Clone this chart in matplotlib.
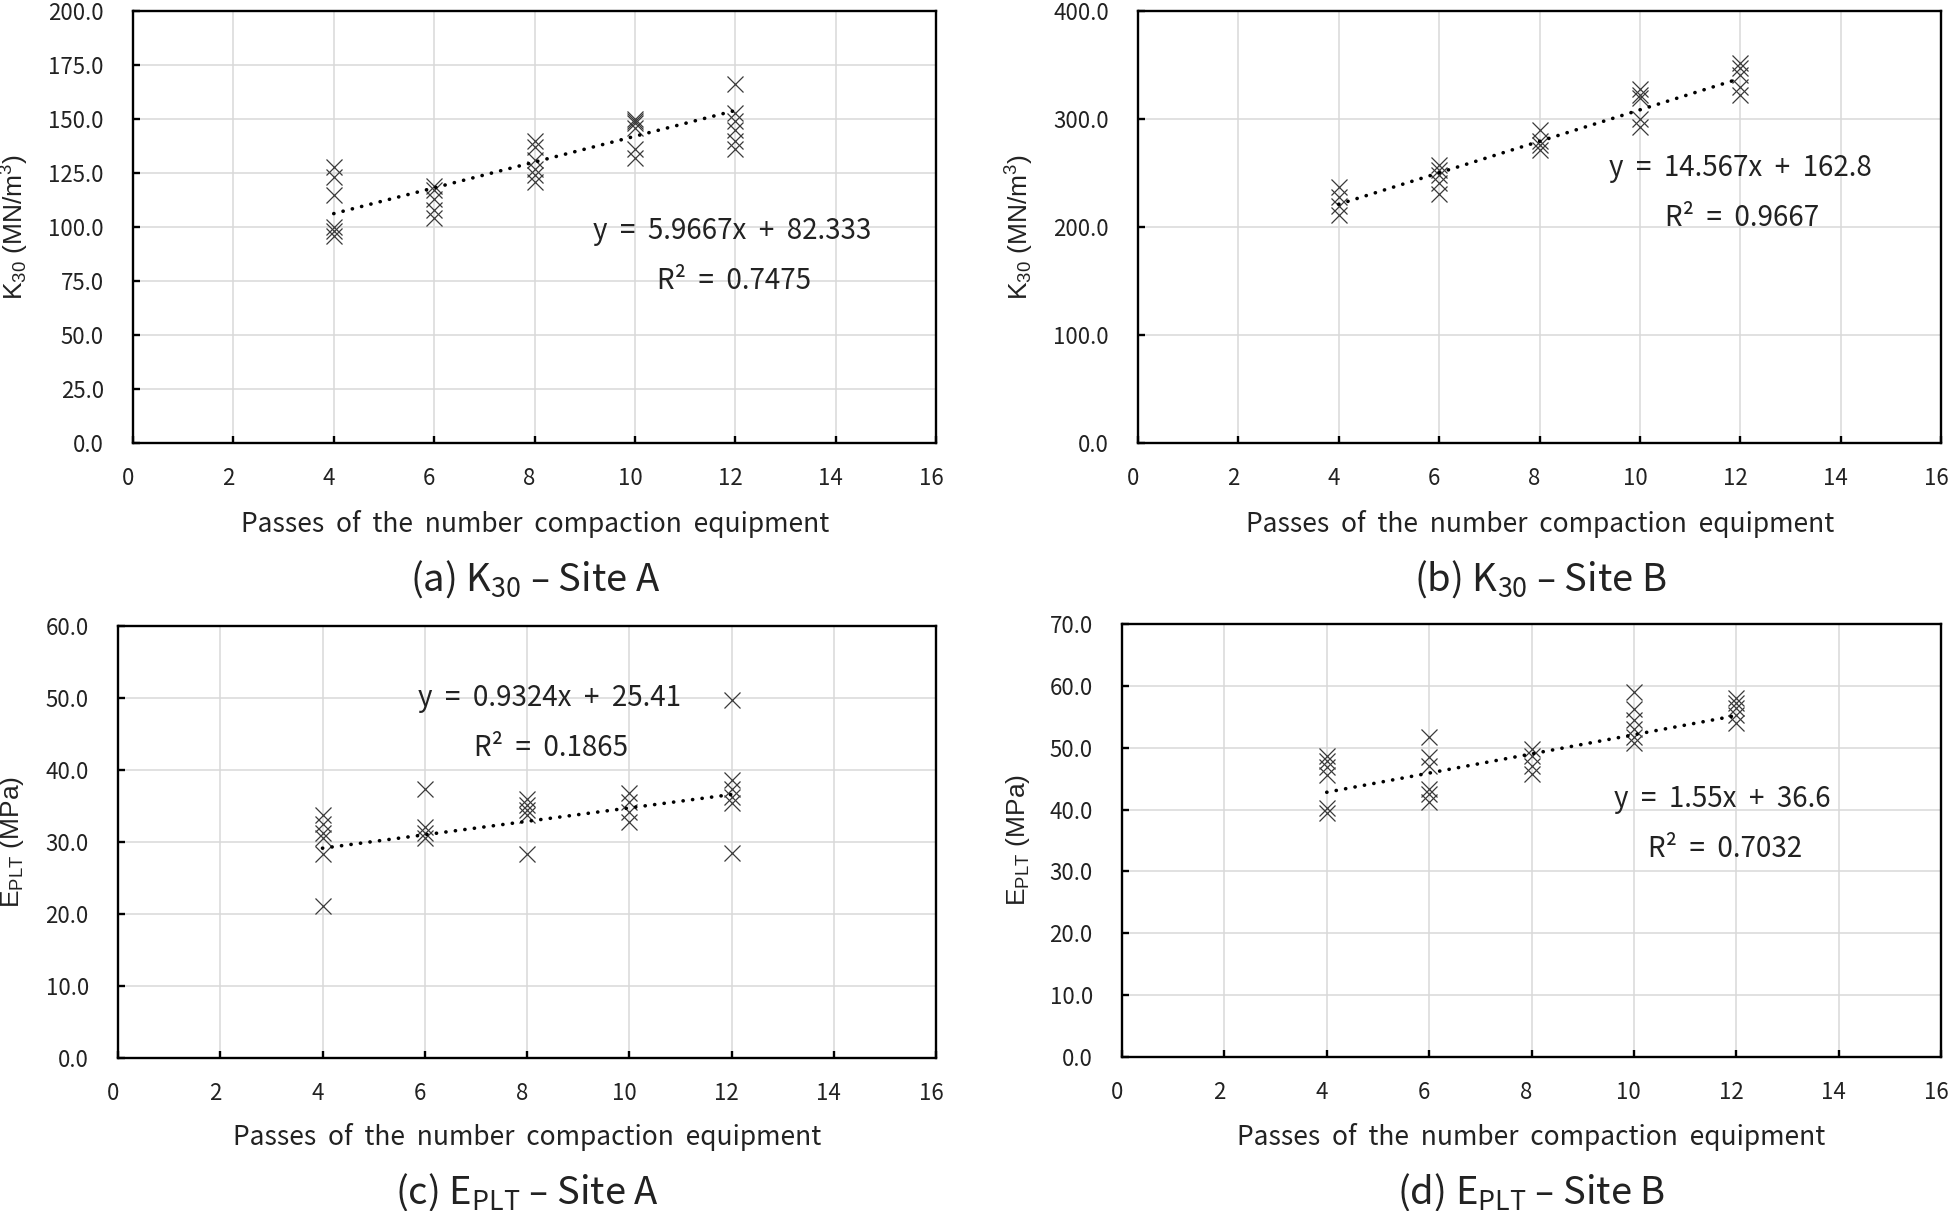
import numpy as np
import matplotlib
matplotlib.use('Agg')
import matplotlib.pyplot as plt
from matplotlib.ticker import FormatStrFormatter
from matplotlib.transforms import ScaledTranslation

plt.rcParams['font.family'] = ['Noto Sans CJK KR', 'DejaVu Sans']
plt.rcParams['mathtext.default'] = 'regular'

# passes of the compaction equipment, one entry per test
k30_a_x = [4]*6 + [6]*5 + [8]*6 + [10]*6 + [12]*6
k30_a_y = [128, 123, 115, 100, 98, 96,
           119, 117, 113, 108, 104,
           140, 137, 131, 127, 124, 121,
           150, 149, 148, 146, 136, 132,
           166, 153, 149, 145, 140, 136]

k30_b_x = [4]*4 + [6]*5 + [8]*4 + [10]*5 + [12]*5
k30_b_y = [237, 228, 219, 211,
           257, 253, 248, 241, 231,
           290, 280, 276, 271,
           328, 322, 319, 300, 293,
           352, 347, 341, 330, 322]

eplt_a_x = [4]*6 + [6]*4 + [8]*5 + [10]*4 + [12]*6
eplt_a_y = [33.8, 32.5, 31.3, 30.5, 28.3, 21.1,
            37.3, 32.1, 31.3, 30.6,
            36.0, 35.2, 34.4, 33.7, 28.3,
            36.8, 35.6, 34.2, 32.8,
            49.7, 38.6, 37.3, 36.2, 35.4, 28.5]

eplt_b_x = [4]*6 + [6]*6 + [8]*4 + [10]*6 + [12]*5
eplt_b_y = [48.6, 47.8, 46.9, 45.6, 40.2, 39.4,
            51.7, 48.5, 47.0, 43.3, 42.5, 41.3,
            49.8, 48.6, 47.0, 45.8,
            59.0, 56.2, 54.5, 53.0, 51.8, 50.8,
            58.0, 57.3, 56.5, 55.3, 54.0]

# trend lines as given on the chart: slope, intercept, R²
slopes = [5.9667, 14.567, 0.9324, 1.55]
intercepts = [82.333, 162.8, 25.41, 36.6]
eq_labels = ['y = 5.9667x + 82.333', 'y = 14.567x + 162.8',
             'y = 0.9324x + 25.41', 'y = 1.55x + 36.6']
r2_labels = ['R² = 0.7475', 'R² = 0.9667', 'R² = 0.1865', 'R² = 0.7032']

y_max = [200, 400, 60, 70]
y_step = [25, 100, 10, 10]
y_labels = ['K$_{30}$ (MN/m$^{3}$)', 'K$_{30}$ (MN/m$^{3}$)',
            'E$_{PLT}$ (MPa)', 'E$_{PLT}$ (MPa)']
captions = ['(a) K$_{30}$ – Site A', '(b) K$_{30}$ – Site B',
            '(c) E$_{PLT}$ – Site A', '(d) E$_{PLT}$ – Site B']
x_label = 'Passes of the number compaction equipment'

W, H = 1951, 1211


def px_rect(left, top, right, bottom):
    return [left / W, 1 - bottom / H, (right - left) / W, (bottom - top) / H]


def draw_panel(ax, xs, ys, i, eq_pos, r2_pos):
    ax.set_xlim(0, 16)
    ax.set_ylim(0, y_max[i])
    ax.set_xticks(range(0, 17, 2))
    ax.set_yticks(np.arange(0, y_max[i] + y_step[i] / 2, y_step[i]))
    ax.yaxis.set_major_formatter(FormatStrFormatter('%.1f'))
    ax.grid(color='#d9d9d9', lw=1.1)
    ax.set_axisbelow(True)
    for s in ax.spines.values():
        s.set_linewidth(1.7)
        s.set_color('black')
    ax.tick_params(direction='in', length=5, width=1.7, labelsize=16,
                   colors='black', labelcolor='#222222')
    ax.tick_params(axis='y', pad=21)
    ax.tick_params(axis='x', pad=17)
    # x tick labels sit a little left of their ticks in the original
    shift = ScaledTranslation(-5 / 100, 0, fig.dpi_scale_trans)
    for lab in ax.get_xticklabels():
        lab.set_transform(lab.get_transform() + shift)

    ax.plot(xs, ys, ls='none', marker='x', ms=12, mew=0.9, color='#3a3a3a')
    fx = np.array([min(xs), max(xs)])
    ax.plot(fx, slopes[i] * fx + intercepts[i], color='black', lw=2.6,
            ls=(0, (0.05, 2.6)), dash_capstyle='round')

    ax.text(eq_pos[0], eq_pos[1], eq_labels[i].replace(' ', '  '),
            transform=ax.transAxes, ha='center', va='center', fontsize=20,
            color='#222222')
    ax.text(r2_pos[0], r2_pos[1], r2_labels[i].replace(' ', '  '),
            transform=ax.transAxes, ha='center', va='center', fontsize=20,
            color='#222222')


fig = plt.figure(figsize=(W / 100, H / 100), dpi=100)

axes = [fig.add_axes(px_rect(133, 11, 936, 443)),
        fig.add_axes(px_rect(1138, 11, 1941, 443)),
        fig.add_axes(px_rect(118, 626, 936, 1058)),
        fig.add_axes(px_rect(1122, 624, 1941, 1057))]

draw_panel(axes[0], k30_a_x, k30_a_y, 0, (0.746, 0.491), (0.748, 0.375))
draw_panel(axes[1], k30_b_x, k30_b_y, 1, (0.750, 0.637), (0.752, 0.521))
draw_panel(axes[2], eplt_a_x, eplt_a_y, 2, (0.527, 0.833), (0.529, 0.718))
draw_panel(axes[3], eplt_b_x, eplt_b_y, 3, (0.733, 0.596), (0.736, 0.480))

# axis titles and captions, placed in figure pixels
ylab_pos = [(15, 227), (1020, 227), (12, 842), (1018, 840)]
xlab_pos = [(535, 524), (1540, 524), (527, 1137), (1531, 1137)]
cap_pos = [(535, 579), (1540, 579), (527, 1192), (1531, 1192)]

for i in range(4):
    fig.text(ylab_pos[i][0] / W, 1 - ylab_pos[i][1] / H, y_labels[i],
             rotation=90, ha='center', va='center', fontsize=19,
             family='Liberation Sans', color='#222222')
    fig.text(xlab_pos[i][0] / W, 1 - xlab_pos[i][1] / H,
             x_label.replace(' ', '  '),
             ha='center', va='center', fontsize=19, color='#222222')
    fig.text(cap_pos[i][0] / W, 1 - cap_pos[i][1] / H, captions[i],
             ha='center', va='center', fontsize=27.5, fontweight='light',
             color='#222222')

fig.savefig('out.png', dpi=100)
